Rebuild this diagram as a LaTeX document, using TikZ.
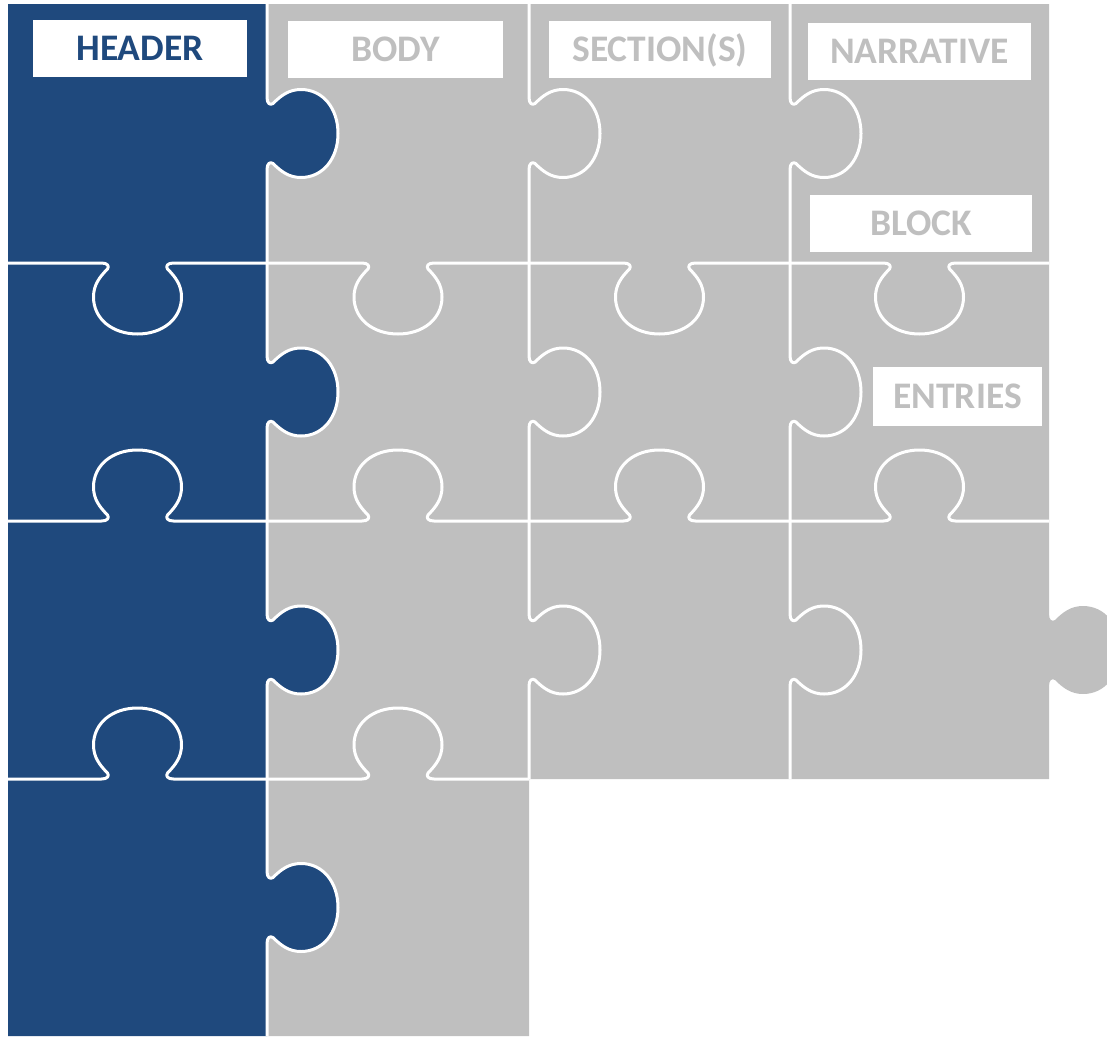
\documentclass[tikz,border=0pt]{standalone}
\usepackage{fontspec}
\setmainfont{Carlito}
\definecolor{hdrblue}{HTML}{1F497D}
\definecolor{pcgray}{HTML}{BFBFBF}

% knob on a vertical seam at x=#1, centred at y=#2, pointing right
\newcommand\vknob[2]{%
 -- (#1,#2-36) .. controls (#1,#2-30) and (#1+3,#2-28) .. (#1+6,#2-30)
 .. controls (#1+14,#2-38) and (#1+22,#2-44) .. (#1+34,#2-44)
 .. controls (#1+56,#2-44) and (#1+71,#2-25) .. (#1+71,#2)
 .. controls (#1+71,#2+25) and (#1+56,#2+44) .. (#1+34,#2+44)
 .. controls (#1+22,#2+44) and (#1+14,#2+38) .. (#1+6,#2+30)
 .. controls (#1+3,#2+28) and (#1,#2+30) .. (#1,#2+36)}
% knob on a horizontal seam at y=#1, centred at x=#2, #3=1 down, -1 up
\newcommand\hknob[3]{%
 -- (#2-36,#1) .. controls (#2-30,#1) and ({#2-28},{#1+3*(#3)}) .. ({#2-30},{#1+6*(#3)})
 .. controls ({#2-38},{#1+14*(#3)}) and ({#2-44},{#1+22*(#3)}) .. ({#2-44},{#1+34*(#3)})
 .. controls ({#2-44},{#1+56*(#3)}) and ({#2-25},{#1+71*(#3)}) .. ({#2},{#1+71*(#3)})
 .. controls ({#2+25},{#1+71*(#3)}) and ({#2+44},{#1+56*(#3)}) .. ({#2+44},{#1+34*(#3)})
 .. controls ({#2+44},{#1+22*(#3)}) and ({#2+38},{#1+14*(#3)}) .. ({#2+30},{#1+6*(#3)})
 .. controls ({#2+28},{#1+3*(#3)}) and (#2+30,#1) .. (#2+36,#1)}

\begin{document}
\begin{tikzpicture}[x=1pt, y=-1pt,
  seam/.style={draw=white, line width=3pt, line join=round},
  tag/.style={fill=white, inner sep=0pt, minimum height=57pt,
    text height=24pt, text depth=0pt, text=pcgray,
    font=\fontsize{37.5}{40}\selectfont\bfseries}]
\clip (0,0) rectangle (1107,1036);

% pieces
\fill[pcgray] (267,4) -- (1049,4) \vknob{1049}{650} -- (1049,779) -- (529,779)
  -- (529,1036) -- (267,1036) -- cycle;
\fill[hdrblue] (8,4) -- (267,4) \vknob{267}{133.5} \vknob{267}{392}
  \vknob{267}{650} \vknob{267}{907.5} -- (267,1036) -- (8,1036) -- cycle;

% seams
\draw[seam] (267,4) \vknob{267}{133.5} \vknob{267}{392} \vknob{267}{650}
  \vknob{267}{907.5} -- (267,1036);
\foreach \X in {529,790}
  \draw[seam] (\X,4) \vknob{\X}{133.5} \vknob{\X}{392} \vknob{\X}{650} -- (\X,779);
\draw[seam] (8,263) \hknob{263}{137.5}{1} \hknob{263}{398}{1}
  \hknob{263}{659.5}{1} \hknob{263}{919.5}{1} -- (1049,263);
\draw[seam] (8,521) \hknob{521}{137.5}{-1} \hknob{521}{398}{-1}
  \hknob{521}{659.5}{-1} \hknob{521}{919.5}{-1} -- (1049,521);
\draw[seam] (8,779) \hknob{779}{137.5}{-1} \hknob{779}{398}{-1} -- (529,779);

% labels
\node[tag, text=hdrblue, minimum width=214pt] (header) at (140,48.5) {HEADER};
\node[tag, minimum width=215pt] (body) at (395.5,49) {BODY};
\node[tag, minimum width=222pt] (sections) at (660,49) {SECTION(S)};
\node[tag, minimum width=223pt] (narrative) at (919.5,51) {NARRATIVE};
\node[tag, minimum width=222pt] (block) at (921,223) {BLOCK};
\node[tag, minimum width=169pt, minimum height=59pt] (entries) at (957.5,396.5) {ENTRIES};

\end{tikzpicture}
\end{document}
